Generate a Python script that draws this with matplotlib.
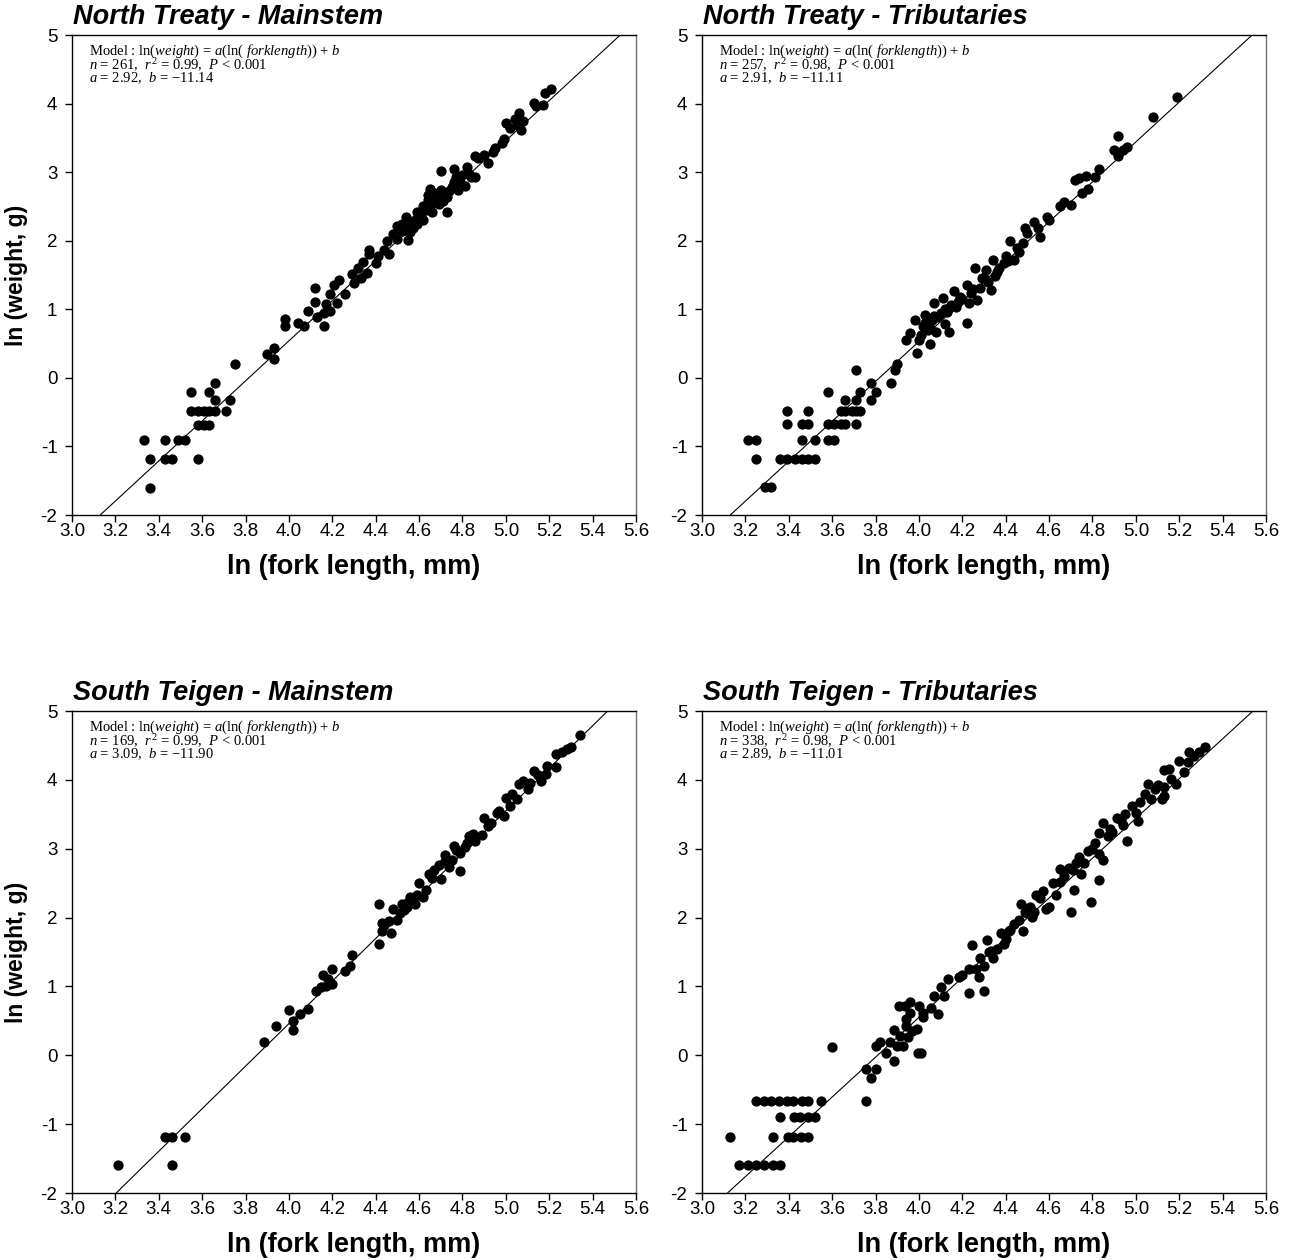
import matplotlib
matplotlib.use("Agg")
import matplotlib.pyplot as plt
from matplotlib.ticker import FormatStrFormatter
import numpy as np

plt.rcParams['font.family'] = ['Liberation Sans', 'DejaVu Sans']
plt.rcParams['axes.unicode_minus'] = False
plt.rcParams['mathtext.fontset'] = 'custom'
plt.rcParams['mathtext.rm'] = 'Liberation Serif'
plt.rcParams['mathtext.it'] = 'Liberation Serif:italic'
plt.rcParams['mathtext.bf'] = 'Liberation Serif:bold'

# ---------------- data ----------------
titles = ["North Treaty - Mainstem", "North Treaty - Tributaries",
          "South Teigen - Mainstem", "South Teigen - Tributaries"]
n_obs = [261, 257, 169, 338]
r2_vals = ["0.99", "0.98", "0.99", "0.98"]
a_vals = [2.92, 2.91, 3.09, 2.89]
b_vals = [-11.14, -11.11, -11.90, -11.01]

x_ticks = [3.0, 3.2, 3.4, 3.6, 3.8, 4.0, 4.2, 4.4, 4.6, 4.8, 5.0, 5.2, 5.4, 5.6]
y_ticks = [-2, -1, 0, 1, 2, 3, 4, 5]

nt_main_x = [3.33, 3.36, 3.36, 3.43, 3.43, 3.46, 3.49, 3.52, 3.58, 3.55, 3.55, 3.58, 3.61, 3.63,
             3.66, 3.58, 3.61, 3.63, 3.63, 3.66, 3.66, 3.71, 3.73, 3.75, 3.90, 3.93, 3.93, 3.98,
             3.98, 4.04, 4.07, 4.09, 4.12, 4.12, 4.13, 4.16, 4.16, 4.17, 4.19, 4.19, 4.22, 4.21,
             4.23, 4.26, 4.29, 4.30, 4.32, 4.33, 4.34, 4.36, 4.37, 4.37, 4.40, 4.41, 4.44, 4.45,
             4.46, 4.50, 4.50, 4.52, 4.54, 4.54, 4.55, 4.57, 4.59, 4.59, 4.61, 4.62, 4.64, 4.65,
             4.66, 4.67, 4.69, 4.70, 4.70, 4.73, 4.73, 4.75, 4.76, 4.77, 4.78, 4.79, 4.81, 4.82,
             4.84, 4.86, 4.86, 4.87, 4.90, 4.92, 4.94, 4.95, 4.98, 4.99, 5.00, 5.02, 5.04, 5.05,
             5.06, 5.07, 5.08, 5.13, 5.14, 5.17, 5.18, 5.21,
             4.48, 4.52, 4.56, 4.58, 4.60, 4.63, 4.66, 4.68, 4.72, 4.74, 4.76, 4.78, 4.80, 4.83,
             4.56, 4.53, 4.62, 4.64, 4.69, 4.71]
nt_main_y = [-0.90, -1.19, -1.60, -0.90, -1.19, -1.19, -0.90, -0.90, -1.19, -0.20, -0.49, -0.49,
             -0.49, -0.49, -0.49, -0.69, -0.69, -0.69, -0.20, -0.08, -0.33, -0.49, -0.33, 0.20,
             0.35, 0.43, 0.27, 0.86, 0.76, 0.80, 0.76, 0.97, 1.31, 1.11, 0.89, 0.76, 0.94, 1.07,
             1.23, 0.97, 1.09, 1.35, 1.42, 1.23, 1.52, 1.38, 1.60, 1.45, 1.69, 1.53, 1.86, 1.81,
             1.67, 1.78, 1.86, 1.99, 1.80, 2.03, 2.21, 2.25, 2.16, 2.35, 2.01, 2.18, 2.42, 2.25,
             2.35, 2.50, 2.59, 2.76, 2.42, 2.69, 2.54, 2.74, 3.01, 2.64, 2.42, 2.79, 3.04, 2.93,
             2.74, 2.86, 2.80, 3.08, 2.93, 2.93, 3.23, 3.20, 3.25, 3.14, 3.30, 3.35, 3.42, 3.48,
             3.71, 3.64, 3.77, 3.69, 3.86, 3.61, 3.75, 4.01, 3.96, 3.98, 4.15, 4.21,
             2.10, 2.14, 2.28, 2.30, 2.38, 2.45, 2.55, 2.60, 2.68, 2.72, 2.85, 2.90, 2.96, 2.98,
             2.12, 2.20, 2.30, 2.66, 2.70, 2.58]

nt_trib_x = [3.21, 3.25, 3.25, 3.29, 3.32, 3.36, 3.39, 3.43, 3.46, 3.49, 3.52, 3.39, 3.39, 3.46,
             3.49, 3.49, 3.46, 3.52, 3.58, 3.61, 3.58, 3.61, 3.64, 3.66, 3.71, 3.58, 3.64, 3.66,
             3.69, 3.71, 3.73, 3.66, 3.71, 3.73, 3.71, 3.78, 3.78, 3.80, 3.87, 3.89, 3.90, 3.94,
             3.96, 3.98, 3.99, 4.00, 4.02, 4.03, 4.04, 4.05, 4.06, 4.07, 4.08, 4.09, 4.11, 4.12,
             4.13, 4.14, 4.15, 4.16, 4.17, 4.19, 4.22, 4.22, 4.23, 4.24, 4.26, 4.27, 4.28, 4.29,
             4.31, 4.32, 4.33, 4.34, 4.35, 4.37, 4.39, 4.40, 4.42, 4.44, 4.46, 4.48, 4.49, 4.50,
             4.53, 4.55, 4.56, 4.59, 4.60, 4.65, 4.67, 4.70, 4.72, 4.74, 4.75, 4.77, 4.78, 4.81,
             4.83, 4.90, 4.92, 4.92, 4.94, 4.96, 5.08, 5.19,
             4.01, 4.03, 4.05, 4.07, 4.10, 4.12, 4.14, 4.18, 4.20, 4.25, 4.30, 4.36, 4.41, 4.45]
nt_trib_y = [-0.90, -0.90, -1.19, -1.59, -1.59, -1.19, -1.19, -1.19, -1.19, -1.19, -1.19, -0.48,
             -0.68, -0.68, -0.68, -0.48, -0.90, -0.90, -0.90, -0.90, -0.68, -0.68, -0.68, -0.68,
             -0.68, -0.20, -0.48, -0.48, -0.48, -0.48, -0.48, -0.33, -0.33, -0.20, 0.11, -0.33,
             -0.07, -0.20, -0.07, 0.11, 0.20, 0.55, 0.65, 0.85, 0.36, 0.55, 0.76, 0.92, 0.70,
             0.50, 0.84, 1.09, 0.67, 0.89, 1.16, 0.79, 0.96, 0.67, 1.06, 1.26, 1.04, 1.18, 0.80,
             1.35, 1.09, 1.24, 1.60, 1.13, 1.31, 1.45, 1.57, 1.40, 1.28, 1.72, 1.48, 1.60, 1.67,
             1.77, 1.99, 1.72, 1.83, 1.96, 2.18, 2.11, 2.28, 2.18, 2.06, 2.35, 2.30, 2.50, 2.57,
             2.52, 2.89, 2.91, 2.69, 2.94, 2.76, 2.93, 3.04, 3.32, 3.23, 3.52, 3.32, 3.37, 3.81,
             4.10,
             0.62, 0.80, 0.72, 0.90, 0.95, 1.00, 1.02, 1.10, 1.15, 1.30, 1.45, 1.55, 1.70, 1.90]

st_main_x = [3.21, 3.43, 3.46, 3.46, 3.52, 3.885, 3.94, 4.00, 4.02, 4.02, 4.05, 4.09, 4.125,
             4.15, 4.155, 4.17, 4.18, 4.20, 4.20, 4.26, 4.28, 4.29, 4.415, 4.415, 4.43, 4.43,
             4.44, 4.47, 4.48, 4.50, 4.51, 4.52, 4.53, 4.545, 4.56, 4.58, 4.59, 4.60, 4.62, 4.63,
             4.645, 4.67, 4.69, 4.70, 4.72, 4.74, 4.75, 4.76, 4.79, 4.79, 4.81, 4.82, 4.83, 4.86,
             4.89, 4.90, 4.93, 4.96, 4.99, 5.00, 5.02, 5.05, 5.06, 5.08, 5.10, 5.13, 5.15, 5.16,
             5.19, 5.185, 5.23, 5.23, 5.26, 5.28, 5.30, 5.34,
             4.46, 4.55, 4.66, 4.72, 4.77, 4.85, 4.92, 4.97, 5.03, 5.11]
st_main_y = [-1.59, -1.19, -1.19, -1.59, -1.19, 0.20, 0.43, 0.66, 0.50, 0.36, 0.595, 0.67, 0.93,
             0.99, 1.16, 1.00, 1.11, 1.04, 1.25, 1.23, 1.30, 1.45, 1.61, 2.195, 1.80, 1.92, 1.89,
             1.77, 2.12, 1.96, 2.06, 2.20, 2.11, 2.16, 2.30, 2.20, 2.33, 2.50, 2.30, 2.40, 2.64,
             2.69, 2.77, 2.56, 2.91, 2.74, 2.84, 3.04, 2.67, 2.94, 3.03, 3.08, 3.19, 3.11, 3.20,
             3.45, 3.38, 3.52, 3.47, 3.73, 3.62, 3.72, 3.94, 3.99, 3.86, 4.13, 4.07, 3.99, 4.20,
             4.08, 4.18, 4.38, 4.40, 4.45, 4.47, 4.65,
             1.95, 2.22, 2.58, 2.82, 2.98, 3.22, 3.33, 3.55, 3.80, 3.95]

st_trib_x = [3.129, 3.17, 3.21, 3.25, 3.285, 3.325, 3.36, 3.325, 3.395, 3.42, 3.455, 3.49, 3.36,
             3.425, 3.45, 3.49, 3.52, 3.25, 3.285, 3.32, 3.355, 3.39, 3.42, 3.46, 3.49, 3.55,
             3.60, 3.755, 3.755, 3.78, 3.80, 3.80, 3.82, 3.85, 3.865, 3.885, 3.885, 3.90, 3.915,
             3.925, 3.94, 3.95, 3.97, 3.99, 3.91, 3.935, 3.96, 3.94, 3.96, 4.00, 4.01, 3.995,
             4.02, 4.02, 4.055, 4.09, 4.07, 4.10, 4.115, 4.135, 4.185, 4.20, 4.23, 4.23, 4.245,
             4.265, 4.275, 4.28, 4.30, 4.30, 4.315, 4.325, 4.34, 4.36, 4.38, 4.39, 4.40, 4.415,
             4.44, 4.46, 4.47, 4.48, 4.50, 4.51, 4.52, 4.53, 4.54, 4.57, 4.585, 4.60, 4.63, 4.65,
             4.65, 4.67, 4.70, 4.71, 4.715, 4.725, 4.745, 4.76, 4.78, 4.795, 4.80, 4.83, 4.83,
             4.85, 4.83, 4.85, 4.87, 4.89, 4.915, 4.94, 4.95, 4.96, 4.98, 5.00, 5.01, 5.04, 5.055,
             5.07, 5.09, 5.12, 5.13, 5.13, 5.13, 5.155, 5.16, 5.185, 5.20, 5.22, 5.24, 5.245,
             5.27, 5.29, 5.32,
             4.33, 4.42, 4.49, 4.56, 4.62, 4.69, 4.74, 4.81, 4.88, 4.93, 5.02, 5.10]
st_trib_y = [-1.19, -1.59, -1.59, -1.59, -1.59, -1.59, -1.59, -1.19, -1.19, -1.19, -1.19, -1.19,
             -0.90, -0.90, -0.90, -0.90, -0.90, -0.67, -0.67, -0.67, -0.67, -0.67, -0.67, -0.67,
             -0.67, -0.67, 0.12, -0.67, -0.20, -0.33, -0.20, 0.13, 0.20, 0.03, 0.20, -0.08, 0.36,
             0.13, 0.28, 0.13, 0.42, 0.26, 0.35, 0.38, 0.72, 0.72, 0.77, 0.52, 0.62, 0.72, 0.03,
             0.03, 0.55, 0.62, 0.69, 0.60, 0.86, 0.99, 0.86, 1.11, 1.13, 1.16, 0.90, 1.25, 1.60,
             1.25, 1.13, 1.42, 0.94, 1.30, 1.67, 1.50, 1.42, 1.55, 1.77, 1.62, 1.69, 1.81, 1.91,
             1.96, 2.195, 1.81, 2.06, 2.16, 2.01, 2.08, 2.33, 2.38, 2.13, 2.16, 2.33, 2.52, 2.70,
             2.60, 2.08, 2.69, 2.40, 2.79, 2.64, 2.79, 2.96, 2.23, 2.99, 2.93, 2.55, 2.84, 3.23,
             3.38, 3.18, 3.25, 3.45, 3.35, 3.50, 3.11, 3.62, 3.52, 3.40, 3.79, 3.94, 3.72, 3.86,
             3.72, 3.77, 3.89, 4.15, 4.16, 4.01, 3.94, 4.28, 4.12, 4.26, 4.41, 4.35, 4.41, 4.47,
             1.52, 1.82, 2.08, 2.28, 2.50, 2.72, 2.88, 3.08, 3.28, 3.42, 3.68, 3.92]

panel_x = [nt_main_x, nt_trib_x, st_main_x, st_trib_x]
panel_y = [nt_main_y, nt_trib_y, st_main_y, st_trib_y]

# ---------------- layout ----------------
W, H = 1292, 1260
fig = plt.figure(figsize=(W / 100, H / 100), dpi=100)
boxes = [(72, 35, 636, 515), (702, 35, 1266, 515),
         (72, 711, 636, 1193), (702, 711, 1266, 1193)]

for i, (x0, y0, x1, y1) in enumerate(boxes):
    ax = fig.add_axes([x0 / W, 1 - y1 / H, (x1 - x0) / W, (y1 - y0) / H])
    ax.set_xlim(3.0, 5.6)
    ax.set_ylim(-2, 5)
    ax.set_xticks(x_ticks)
    ax.set_yticks(y_ticks)
    ax.xaxis.set_major_formatter(FormatStrFormatter('%.1f'))
    ax.tick_params(direction='out', length=5, width=1, labelsize=13.5,
                   top=False, right=False, colors='black')
    ax.tick_params(axis='x', pad=0.5)
    ax.tick_params(axis='y', pad=5.5)
    for s in ['left', 'bottom', 'top']:
        ax.spines[s].set_linewidth(1.0)
        ax.spines[s].set_color('black')
    ax.spines['right'].set_linewidth(1.0)
    ax.spines['right'].set_color('#707070')

    a, b = a_vals[i], b_vals[i]
    xl = np.array(ax.get_xlim())
    ax.plot(xl, a * xl + b, color='black', lw=0.8, zorder=2)
    ax.plot(panel_x[i], panel_y[i], 'o', color='black', ms=7.4, mew=0, zorder=3,
            clip_on=False)

    # model text (one block of three lines)
    bs = ("%.2f" % b).replace('-', '\u2212')
    model_txt = (r"Model : ln($\mathit{weight}$) = $\mathit{a}$(ln( $\mathit{forklength}$)) + $\mathit{b}$" + "\n"
                 + r"$\mathit{n}$ = %d,  $\mathit{r}^{2}$ = %s,  $\mathit{P}$ < 0.001" % (n_obs[i], r2_vals[i]) + "\n"
                 + r"$\mathit{a}$ = %.2f,  $\mathit{b}$ = %s" % (a, bs))
    ax.annotate(model_txt, xy=(0, 1), xycoords='axes fraction', xytext=(17, -8),
                textcoords='offset pixels', ha='left', va='top', fontsize=10.5,
                family='Liberation Serif', linespacing=0.72)

    # title
    ax.annotate(titles[i], xy=(0, 1), xycoords='axes fraction', xytext=(1, 18),
                textcoords='offset pixels', ha='left', va='center',
                fontsize=19.5, fontweight='bold', fontstyle='italic')
    # x label
    ax.annotate("ln (fork length, mm)", xy=(0.5, 0), xycoords='axes fraction',
                xytext=(0, -52), textcoords='offset pixels', ha='center', va='center',
                fontsize=19.5, fontweight='bold')
    if i % 2 == 0:
        ax.annotate("ln (weight, g)", xy=(0, 0.5), xycoords='axes fraction',
                    xytext=(-55, 0), textcoords='offset pixels', ha='center', va='center',
                    rotation=90, fontsize=16.5, fontweight='bold')

fig.savefig("out.png", dpi=100)
